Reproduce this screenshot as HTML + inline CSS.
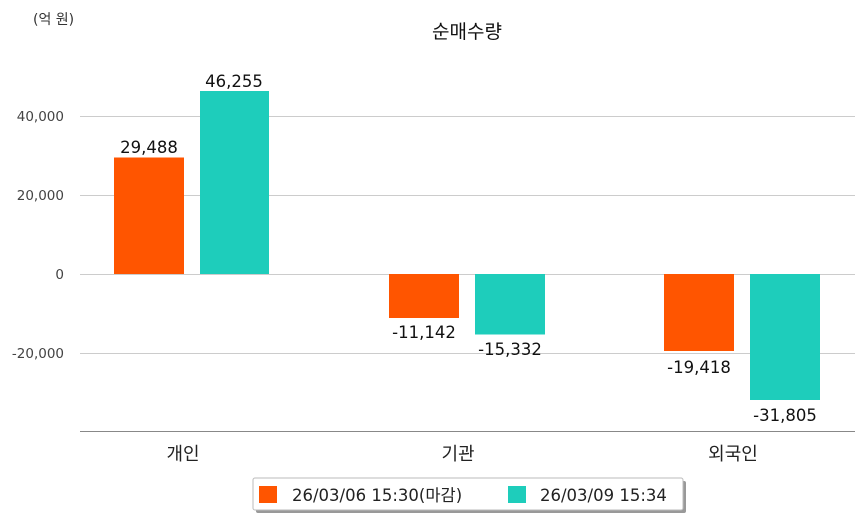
<!DOCTYPE html>
<html><head><meta charset="utf-8"><style>
body{margin:0;background:#fff;}
svg text{font-family:"DejaVu Sans","Noto Sans CJK KR",sans-serif;}
</style></head><body>
<svg width="863" height="520" xmlns="http://www.w3.org/2000/svg">
<text x="33" y="24" font-size="14" fill="#333">(억 원)</text>
<text x="467" y="38" font-size="19" text-anchor="middle" fill="#111">순매수량</text>
<g stroke="#ccc" stroke-width="1">
<line x1="80" y1="116.5" x2="855" y2="116.5"/>
<line x1="80" y1="195.5" x2="855" y2="195.5"/>
<line x1="80" y1="274.5" x2="855" y2="274.5"/>
<line x1="80" y1="353.5" x2="855" y2="353.5"/>
</g>
<line x1="80" y1="431.5" x2="855" y2="431.5" stroke="#888"/>
<g font-size="13.5" fill="#444" text-anchor="end">
<text x="64" y="121">40,000</text>
<text x="64" y="200">20,000</text>
<text x="64" y="279">0</text>
<text x="64" y="358">-20,000</text>
</g>
<g fill="#ff5500">
<rect x="114" y="157.5" width="70" height="116.5"/>
<rect x="389" y="274" width="70" height="44"/>
<rect x="664" y="274" width="70" height="77"/>
</g>
<g fill="#1ecdbb">
<rect x="200" y="91" width="69" height="183"/>
<rect x="475" y="274" width="70" height="60.5"/>
<rect x="750" y="274" width="70" height="126"/>
</g>
<g font-size="16.5" fill="#111" text-anchor="middle" font-weight="500">
<text x="149" y="153">29,488</text>
<text x="234" y="87">46,255</text>
<text x="424" y="338">-11,142</text>
<text x="510" y="355">-15,332</text>
<text x="699" y="373">-19,418</text>
<text x="785" y="421">-31,805</text>
</g>
<g font-size="18" fill="#222" text-anchor="middle">
<text x="183" y="460">개인</text>
<text x="458" y="460">기관</text>
<text x="733" y="460">외국인</text>
</g>
<rect x="256" y="481" width="430" height="32" rx="2" fill="#999"/>
<rect x="253" y="478" width="430" height="32" rx="2" fill="#fff" stroke="#bbb"/>
<rect x="259" y="486" width="18" height="17" fill="#ff5500"/>
<rect x="508" y="486" width="18" height="17" fill="#1ecdbb"/>
<g font-size="16.5" fill="#222">
<text x="292" y="501">26/03/06 15:30(마감)</text>
<text x="540" y="501">26/03/09 15:34</text>
</g>
</svg>
</body></html>
